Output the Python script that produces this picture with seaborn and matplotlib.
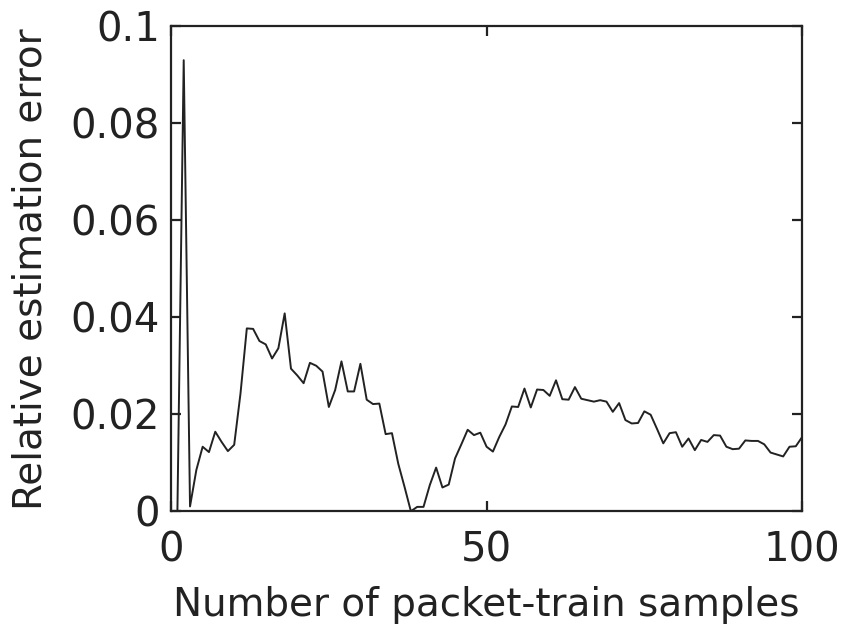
import pandas as pd
import matplotlib
matplotlib.use("Agg")
import matplotlib.pyplot as plt
import seaborn as sns

# Samples
samples = list(range(1, 101))
rel_error = [
    0.0, 0.093, 0.001, 0.0085, 0.0133, 0.0122, 0.0164, 0.0143, 0.0124, 0.0137,
    0.0243, 0.0377, 0.0376, 0.0351, 0.0344, 0.0315, 0.0336, 0.0408, 0.0294, 0.0280,
    0.0264, 0.0306, 0.0300, 0.0288, 0.0215, 0.0250, 0.0309, 0.0247, 0.0247, 0.0304,
    0.0230, 0.0221, 0.0222, 0.0159, 0.0161, 0.0098, 0.0050, 0.0, 0.0009, 0.0009,
    0.0054, 0.0090, 0.0049, 0.0055, 0.0109, 0.0138, 0.0168, 0.0157, 0.0162, 0.0133,
    0.0123, 0.0153, 0.0179, 0.0216, 0.0215, 0.0253, 0.0214, 0.0251, 0.0250, 0.0238,
    0.0270, 0.0231, 0.0230, 0.0256, 0.0232, 0.0229, 0.0226, 0.0229, 0.0226, 0.0205,
    0.0223, 0.0188, 0.0181, 0.0182, 0.0206, 0.0199, 0.0170, 0.0140, 0.0161, 0.0163,
    0.0133, 0.0150, 0.0126, 0.0147, 0.0143, 0.0157, 0.0156, 0.0133, 0.0128, 0.0129,
    0.0146, 0.0145, 0.0145, 0.0138, 0.0121, 0.0117, 0.0113, 0.0133, 0.0134, 0.0153,
]
x_ticks = [0, 50, 100]
y_ticks = [0, 0.02, 0.04, 0.06, 0.08, 0.1]
y_tick_labels = ["0", "0.02", "0.04", "0.06", "0.08", "0.1"]

df = pd.DataFrame({"samples": samples, "error": rel_error})

sns.set_style("ticks")
plt.rcParams["font.family"] = ["DejaVu Sans"]

fig = plt.figure(figsize=(8.47, 6.25), dpi=100)
ax = fig.add_axes([0.202, 0.182, 0.745, 0.776])

sns.lineplot(data=df, x="samples", y="error", color="#222222", linewidth=1.4, ax=ax)

ax.set_xlim(0, 100)
ax.set_ylim(0, 0.1)
ax.set_xticks(x_ticks)
ax.set_yticks(y_ticks)
ax.set_yticklabels(y_tick_labels)

for side in ["top", "right", "left", "bottom"]:
    ax.spines[side].set_visible(True)
    ax.spines[side].set_linewidth(1.6)
    ax.spines[side].set_color("#222222")

ax.tick_params(axis="both", direction="in", length=7, width=1.6,
               top=True, right=True, labelsize=29, colors="#222222")
ax.tick_params(axis="x", pad=14)
ax.tick_params(axis="y", pad=8)

ax.set_xlabel("Number of packet-train samples", fontsize=28, color="#222222", labelpad=11)
ax.set_ylabel("Relative estimation error", fontsize=28, color="#222222", labelpad=15)

fig.savefig("out.png", dpi=100)
plt.close(fig)
